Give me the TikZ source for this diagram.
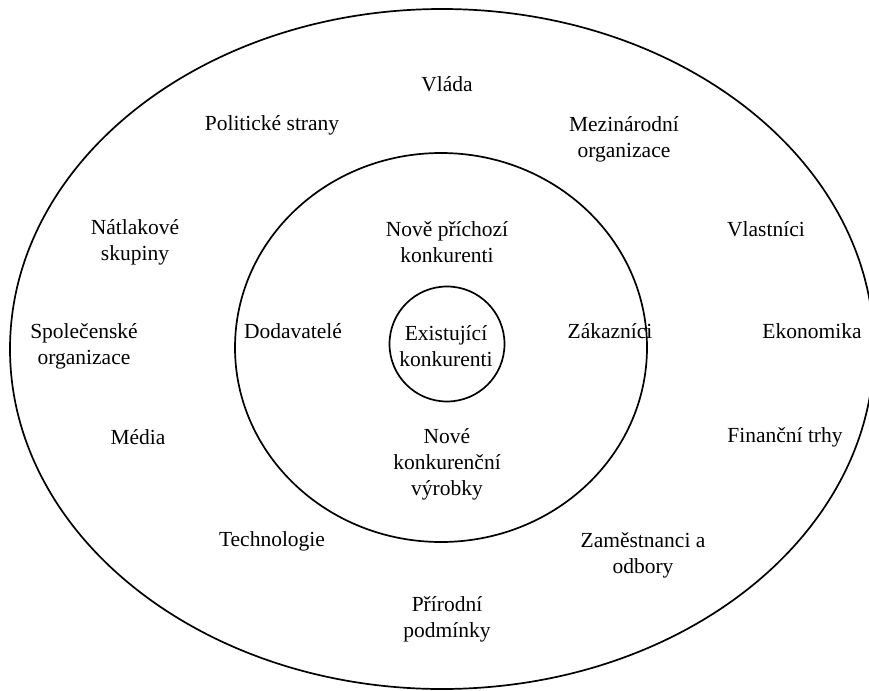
\documentclass[tikz,border=0pt]{standalone}
\usepackage{fontspec}
\setmainfont{Liberation Serif}
\begin{document}
\begin{tikzpicture}[x=1pt,y=-1pt,
  lbl/.style={align=center,font=\fontsize{21.5}{26}\selectfont,inner sep=0pt},
  ring/.style={draw=black,line width=1.7pt}]
\useasboundingbox (0,0) rectangle (869,690);
% environment rings
\draw[ring] (442,349) ellipse [x radius=432, y radius=340];
\draw[ring] (441,347.5) ellipse [x radius=206, y radius=194.5];
\draw[ring] (447,344) circle [radius=57.5];
% outer ring labels
\node[lbl] (vlada) at (447,84) {Vláda};
\node[lbl] (polit) at (272,125) {Politické strany};
\node[lbl] (mezin) at (624,139) {Mezinárodní\\organizace};
\node[lbl] (natlak) at (135,242) {Nátlakové\\skupiny};
\node[lbl] (vlast) at (766,229) {Vlastníci};
\node[lbl] (spol) at (84,346) {Společenské\\organizace};
\node[lbl] (ekon) at (812,331) {Ekonomika};
\node[lbl] (media) at (138,437) {Média};
\node[lbl] (fin) at (785,437) {Finanční trhy};
\node[lbl] (tech) at (272,541) {Technologie};
\node[lbl] (zam) at (643,555) {Zaměstnanci a\\odbory};
\node[lbl] (prir) at (447,619) {Přírodní\\podmínky};
% middle ring labels
\node[lbl] (nove) at (447,242) {Nově příchozí\\konkurenti};
\node[lbl] (dod) at (293,331) {Dodavatelé};
\node[lbl] (zak) at (610,331) {Zákazníci};
\node[lbl] (vyr) at (447,464) {Nové\\konkurenční\\výrobky};
% core
\node[lbl] (exist) at (446,346) {Existující\\konkurenti};
\end{tikzpicture}
\end{document}
